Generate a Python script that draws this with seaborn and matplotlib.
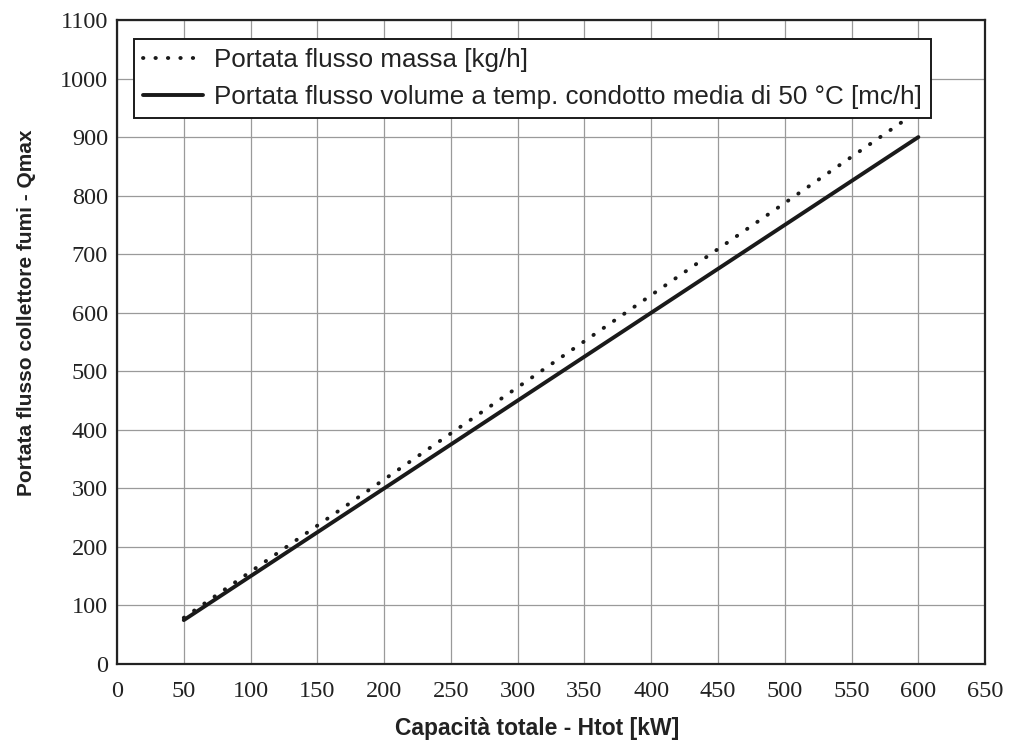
import matplotlib
matplotlib.use("Agg")
import matplotlib.pyplot as plt
import numpy as np
import pandas as pd
import seaborn as sns

# data
capacity_kw = [50, 600]
mass_flow = [79, 945]       # Portata flusso massa [kg/h]
volume_flow = [75, 900]     # Portata flusso volume [mc/h]
x_ticks = list(range(0, 651, 50))
y_ticks = list(range(0, 1101, 100))

label_mass = "Portata flusso massa [kg/h]"
label_vol = "Portata flusso volume a temp. condotto media di 50 °C [mc/h]"

df = pd.DataFrame({
    "capacity": capacity_kw * 2,
    "flow": mass_flow + volume_flow,
    "series": [label_mass] * 2 + [label_vol] * 2,
})

sns.set_style("white")
plt.rcParams["font.family"] = ["Liberation Sans", "DejaVu Sans"]

fig = plt.figure(figsize=(10.13, 7.43), dpi=100)
ax = fig.add_axes([0.1155, 0.1063, 0.857, 0.8668])

sns.lineplot(data=df[df.series == label_mass], x="capacity", y="flow", ax=ax,
             color="#1a1a1a", linewidth=2.8, label=label_mass,
             linestyle=(0, (0.1, 3.1)), dash_capstyle="round")
sns.lineplot(data=df[df.series == label_vol], x="capacity", y="flow", ax=ax,
             color="#1a1a1a", linewidth=2.8, label=label_vol)

ax.set_xlim(0, 650)
ax.set_ylim(0, 1100)
ax.set_xticks(x_ticks)
ax.set_yticks(y_ticks)
ax.grid(True, color="#9a9a9a", linewidth=0.9)
ax.set_axisbelow(True)
for s in ax.spines.values():
    s.set_color("#222222")
    s.set_linewidth(1.6)
ax.tick_params(axis="both", direction="out", length=3, width=1, color="#222222")
ax.tick_params(axis="x", pad=9)
ax.tick_params(axis="y", pad=3.5)
for t in ax.get_xticklabels() + ax.get_yticklabels():
    t.set_fontfamily("Liberation Serif")
    t.set_fontsize(17.5)
    t.set_color("#222222")

ax.set_xlabel("Capacità totale - Htot [kW]", fontsize=16.5, fontweight="bold",
              color="#222222")
ax.set_ylabel("Portata flusso collettore fumi - Qmax", fontsize=15,
              fontweight="bold", color="#222222")
ax.xaxis.set_label_coords(0.484, -0.082)
ax.yaxis.set_label_coords(-0.093, 0.545)

leg = ax.legend(loc="upper left", bbox_to_anchor=(0.020, 0.971), fontsize=18.7,
                handlelength=2.3, handletextpad=0.4, borderpad=0.35,
                labelspacing=0.5, fancybox=False, framealpha=1,
                edgecolor="#1a1a1a", borderaxespad=0)
leg.get_frame().set_linewidth(1.4)
for t in leg.get_texts():
    t.set_color("#222222")

fig.savefig("out.png", dpi=100)
